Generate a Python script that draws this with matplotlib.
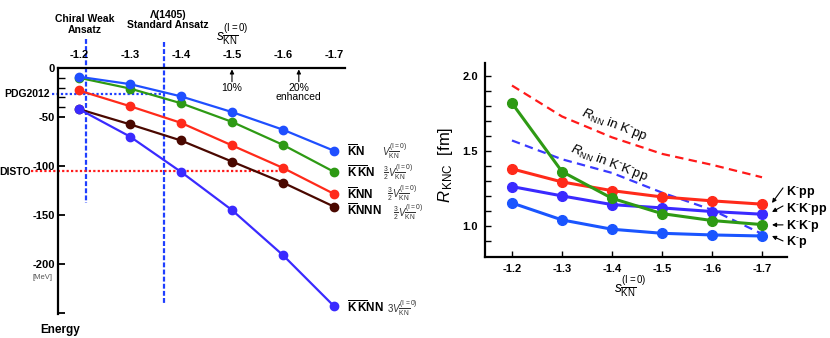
import matplotlib
matplotlib.use("Agg")
import matplotlib.pyplot as plt

plt.rcParams['font.family'] = ['Liberation Sans', 'DejaVu Sans']
plt.rcParams['mathtext.fontset'] = 'custom'
plt.rcParams['mathtext.rm'] = 'Liberation Sans'
plt.rcParams['mathtext.it'] = 'Liberation Sans:italic'
plt.rcParams['mathtext.bf'] = 'Liberation Sans:bold'

# s_KN^(I=0) values
s = [-1.2, -1.3, -1.4, -1.5, -1.6, -1.7]
s_labels = ['-1.2', '-1.3', '-1.4', '-1.5', '-1.6', '-1.7']

# binding energies [MeV]
e_kn = [-9, -16.5, -29, -45, -63, -84.5]
e_kkn = [-10, -21, -36, -55, -78.5, -106]
e_knn = [-23, -39, -56, -79, -102, -128.5]
e_knnn = [-42, -57.5, -74, -95.5, -117, -141.5]
e_kknn = [-42, -70, -106, -145, -191, -243]

# reference values
s_chiral = -1.214
s_standard = -1.367
e_pdg = -27
e_disto = -105

# radii [fm]
r_kpp = [1.38, 1.293, 1.235, 1.193, 1.167, 1.145]
r_kkpp = [1.262, 1.2, 1.142, 1.12, 1.096, 1.078]
r_kkp = [1.818, 1.362, 1.184, 1.082, 1.036, 1.009]
r_kp = [1.153, 1.04, 0.978, 0.951, 0.94, 0.933]
rnn_kpp = [1.935, 1.729, 1.59, 1.48, 1.407, 1.324]
rnn_kkpp = [1.569, 1.444, 1.353, 1.222, 1.107, 0.947]

c_blue = '#1f4fff'
c_green = '#2e9a14'
c_red = '#ff2a1a'
c_brown = '#4a0800'
c_purple = '#3a2aff'

fig = plt.figure(figsize=(8.3, 3.38), dpi=100)

# ---------------- left: energies
ax1 = fig.add_axes([0.0699, 0.071, 0.3458, 0.728])
ax1.set_xlim(-1.159, -1.7216)
ax1.set_ylim(-251, 0)
for sp in ['right', 'bottom']:
    ax1.spines[sp].set_visible(False)
for sp in ['top', 'left']:
    ax1.spines[sp].set_linewidth(1.6)
ax1.xaxis.tick_top()
ax1.set_xticks(s)
ax1.set_xticklabels(s_labels, fontsize=8, fontweight='bold')
ax1.tick_params(axis='x', length=0, pad=6)
ax1.set_yticks([0, -50, -100, -150, -200, -250])
ax1.set_yticklabels(['0', '-50', '-100', '-150', '-200', ''], fontsize=8, fontweight='bold')
ax1.set_yticks([-10, -20, -30, -40], minor=True)
ax1.tick_params(axis='y', direction='in', length=5, width=1.3, pad=2)
ax1.tick_params(axis='y', which='minor', direction='in', length=5, width=1.0)

kw = dict(marker='o', markersize=6, lw=1.6)
ax1.plot(s, e_kkn, color=c_green, **kw)
ax1.plot(s, e_kn, color=c_blue, **kw)
ax1.plot(s, e_knn, color=c_red, **kw)
ax1.plot(s, e_knnn, color=c_brown, **kw)
ax1.plot(s, e_kknn, color=c_purple, **kw)

ax1.plot([s_chiral, s_chiral], [30, -138], color='#1f3fff', lw=1.6,
         ls=(0, (2.2, 1.0)), clip_on=False, zorder=1)
ax1.plot([s_standard, s_standard], [26, -240], color='#1f3fff', lw=1.6,
         ls=(0, (2.2, 1.0)), clip_on=False, zorder=1)
ax1.plot([-1.147, s_standard], [e_pdg, e_pdg], color='#1f3fff', lw=1.6,
         ls=(0, (1, 1)), clip_on=False, zorder=1)
ax1.plot([-1.107, -1.6], [e_disto, e_disto], color='#ff1a1a', lw=1.6,
         ls=(0, (1, 1)), clip_on=False, zorder=1)

ax1.text(-1.143, e_pdg, 'PDG2012', ha='right', va='center', fontsize=7.5, fontweight='bold')
ax1.text(-1.105, e_disto - 1, 'DISTO', ha='right', va='center', fontsize=7.5, fontweight='bold')
ax1.text(-1.212, 44, 'Chiral Weak\nAnsatz', ha='center', va='center', fontsize=7.5,
         fontweight='bold', linespacing=1.1)
ax1.text(-1.3745, 49, '\u039b(1405)\nStandard Ansatz', ha='center', va='center', fontsize=7.5,
         fontweight='bold', linespacing=1.1)
ax1.text(-1.5, 35, r'$s_{\overline{\rm KN}}^{\rm (I=0)}$', ha='center', va='center', fontsize=10)

arw = dict(arrowstyle='-|>', lw=0.8, color='black', mutation_scale=6, shrinkA=0, shrinkB=0)
ax1.annotate('', xy=(-1.5, -1.5), xytext=(-1.5, -14), arrowprops=arw)
ax1.annotate('', xy=(-1.631, -1.5), xytext=(-1.631, -14), arrowprops=arw)
ax1.text(-1.5, -20, '10%', ha='center', va='center', fontsize=7.5)
ax1.text(-1.631, -20, '20%', ha='center', va='center', fontsize=7.5)
ax1.text(-1.631, -30, 'enhanced', ha='center', va='center', fontsize=7.5)

ax1.text(-1.1627, -267, 'Energy', ha='center', va='center', fontsize=8.5, fontweight='bold')
ax1.text(-1.1294, -214, '[MeV]', ha='center', va='center', fontsize=5.5, color='#555555')

names = [r'$\overline{\mathbf{K}}\mathbf{N}$',
         r'$\overline{\mathbf{K}}\,\overline{\mathbf{K}}\mathbf{N}$',
         r'$\overline{\mathbf{K}}\mathbf{NN}$',
         r'$\overline{\mathbf{K}}\mathbf{NNN}$',
         r'$\overline{\mathbf{K}}\,\overline{\mathbf{K}}\mathbf{NN}$']
pots = [r'$V_{\overline{\rm KN}}^{\rm (I=0)}$',
        r'$\frac{3}{2}V_{\overline{\rm KN}}^{\rm (I=0)}$',
        r'$\frac{3}{2}V_{\overline{\rm KN}}^{\rm (I=0)}$',
        r'$\frac{3}{2}V_{\overline{\rm KN}}^{\rm (I=0)}$',
        r'$3V_{\overline{\rm KN}}^{\rm (I=0)}$']
ends = [e_kn[-1], e_kkn[-1], e_knn[-1], e_knnn[-1] - 3, e_kknn[-1] - 1]
pot_dy = [0, 0, 1, -3, 0]
pot_x = [-1.794, -1.796, -1.804, -1.816, -1.804]
for name, pot, y, dy, px in zip(names, pots, ends, pot_dy, pot_x):
    ax1.text(-1.7255, y, name, ha='left', va='center', fontsize=8.5, clip_on=False)
    ax1.text(px, y + dy, pot, ha='left', va='center', fontsize=7, color='#333333', clip_on=False)

# ---------------- right: radii
ax2 = fig.add_axes([0.5843, 0.2396, 0.3639, 0.574])
ax2.set_xlim(-1.146, -1.75)
ax2.set_ylim(0.793, 2.085)
for sp in ['right', 'top']:
    ax2.spines[sp].set_visible(False)
for sp in ['left', 'bottom']:
    ax2.spines[sp].set_linewidth(1.6)
ax2.set_xticks(s)
ax2.set_xticklabels(s_labels, fontsize=8, fontweight='bold')
ax2.set_yticks([1.0, 1.5, 2.0])
ax2.set_yticklabels(['1.0', '1.5', '2.0'], fontsize=8, fontweight='bold')
ax2.set_yticks([0.9, 1.1, 1.2, 1.3, 1.4, 1.6, 1.7, 1.8, 1.9], minor=True)
ax2.tick_params(direction='in', length=4, width=1.0, pad=5)
ax2.tick_params(which='minor', direction='in', length=4, width=1.0)

ax2.plot(s, rnn_kpp, color='#ff1a1a', lw=1.6, ls=(0, (3.8, 2.4)))
ax2.plot(s, rnn_kkpp, color='#3a3aff', lw=1.6, ls=(0, (3.8, 2.4)))
kw2 = dict(marker='o', markersize=7, lw=2.2)
ax2.plot(s, r_kp, color='#1a55ff', **kw2)
ax2.plot(s, r_kkpp, color=c_purple, **kw2)
ax2.plot(s, r_kpp, color=c_red, **kw2)
ax2.plot(s, r_kkp, color=c_green, **kw2)

ax2.text(-1.338, 1.735, r'$R_{\rm NN}$ in K$^{\text{-}}$pp', rotation=-21, rotation_mode='anchor',
         ha='left', va='baseline', fontsize=9.5)
ax2.text(-1.316, 1.50, r'$R_{\rm NN}$ in K$^{\text{-}}$K$^{\text{-}}$pp', rotation=-21,
         rotation_mode='anchor', ha='left', va='baseline', fontsize=9.5)

ax2.text(-0.132, 0.474, r'$R_{\,\rm KNC}$  [fm]', transform=ax2.transAxes, rotation=90,
         ha='center', va='center', fontsize=12)
ax2.text(0.48, -0.15, r'$s_{\overline{\rm KN}}^{\rm (I=0)}$', transform=ax2.transAxes,
         ha='center', va='center', fontsize=10)

lab = [r'K$^{\text{-}}$pp', r'K$^{\text{-}}$K$^{\text{-}}$pp', r'K$^{\text{-}}$K$^{\text{-}}$p', r'K$^{\text{-}}$p']
lab_y = [1.229, 1.113, 1.0, 0.895]
heads = [(1.153, 1.253), (1.093, 1.133), (1.007, 1.007), (0.933, 0.90)]
for t, ty, (hy, ty0) in zip(lab, lab_y, heads):
    ax2.text(-1.748, ty, t, ha='left', va='center', fontsize=9, fontweight='bold', clip_on=False)
    ax2.annotate('', xy=(-1.72, hy), xytext=(-1.742, ty0), annotation_clip=False,
                 arrowprops=dict(arrowstyle='-|>', lw=0.8, color='black', mutation_scale=6,
                                 shrinkA=0, shrinkB=0))

fig.savefig('out.png', dpi=100)
